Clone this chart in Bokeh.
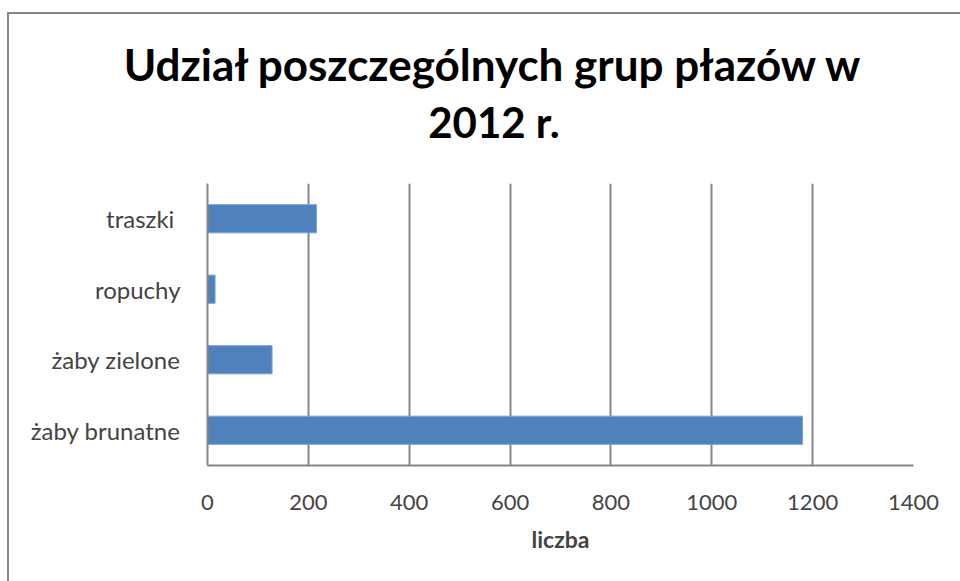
from bokeh.plotting import figure
from bokeh.models import Div, FixedTicker, Range1d
from bokeh.layouts import column
from bokeh.embed import file_html
from bokeh.resources import INLINE

categories = ["żaby brunatne", "żaby zielone", "ropuchy", "traszki "]
values = [1180, 128, 15, 216]
x_ticks = [0, 200, 400, 600, 800, 1000, 1200, 1400]
title_lines = ["Udział poszczególnych grup płazów w", "2012 r."]

FONT = "Lato"

title_html = (
    '<div style="position:relative;width:951px;height:159px;font-family:Lato;'
    'font-weight:bold;color:black;">'
    '<div style="position:absolute;left:78px;top:23px;width:800px;text-align:center;'
    'font-size:44px;line-height:44px;white-space:nowrap;">' + title_lines[0] + '</div>'
    '<div style="position:absolute;left:80px;top:82px;width:800px;text-align:center;'
    'font-size:42px;line-height:42px;white-space:nowrap;">' + title_lines[1] + '</div>'
    '</div>'
)
title_div = Div(text=title_html, width=951, height=159)

p = figure(
    y_range=categories,
    x_range=Range1d(0, 1400),
    width=951, height=398,
    output_backend="svg", toolbar_location=None,
    min_border_left=198, min_border_right=47,
    min_border_top=0, min_border_bottom=116,
)

p.hbar(y=categories, right=values, left=0, height=0.4,
       fill_color="#4F81BD", line_color="#7EA3D0", line_width=1)

p.xaxis.ticker = FixedTicker(ticks=x_ticks)
p.xaxis.axis_label = "liczba"
p.xaxis.axis_label_text_font = FONT
p.xaxis.axis_label_text_font_style = "bold"
p.xaxis.axis_label_text_font_size = "23px"
p.xaxis.axis_label_standoff = 12
p.xaxis.major_label_text_font = FONT
p.xaxis.major_label_text_font_size = "22px"
p.xaxis.major_label_standoff = 23
p.xaxis.major_tick_line_color = None
p.xaxis.minor_tick_line_color = None
p.xaxis.axis_line_color = "#868686"
p.xaxis.axis_line_width = 2

p.yaxis.major_label_text_font = FONT
p.yaxis.major_label_text_font_size = "24px"
p.yaxis.major_label_standoff = 21
p.yaxis.major_tick_line_color = None
p.yaxis.minor_tick_line_color = None
p.yaxis.axis_line_color = "#868686"
p.yaxis.axis_line_width = 2

p.xgrid.grid_line_color = "#868686"
p.xgrid.grid_line_width = 2
p.ygrid.grid_line_color = None
p.outline_line_color = None
p.y_range.range_padding = 0

layout = column(title_div, p, spacing=0)
layout.styles = {"border-left": "2px solid #868686", "border-top": "2px solid #868686",
                 "margin-left": "7px", "margin-top": "12px"}

open("out.html", "w").write(file_html(layout, INLINE))
